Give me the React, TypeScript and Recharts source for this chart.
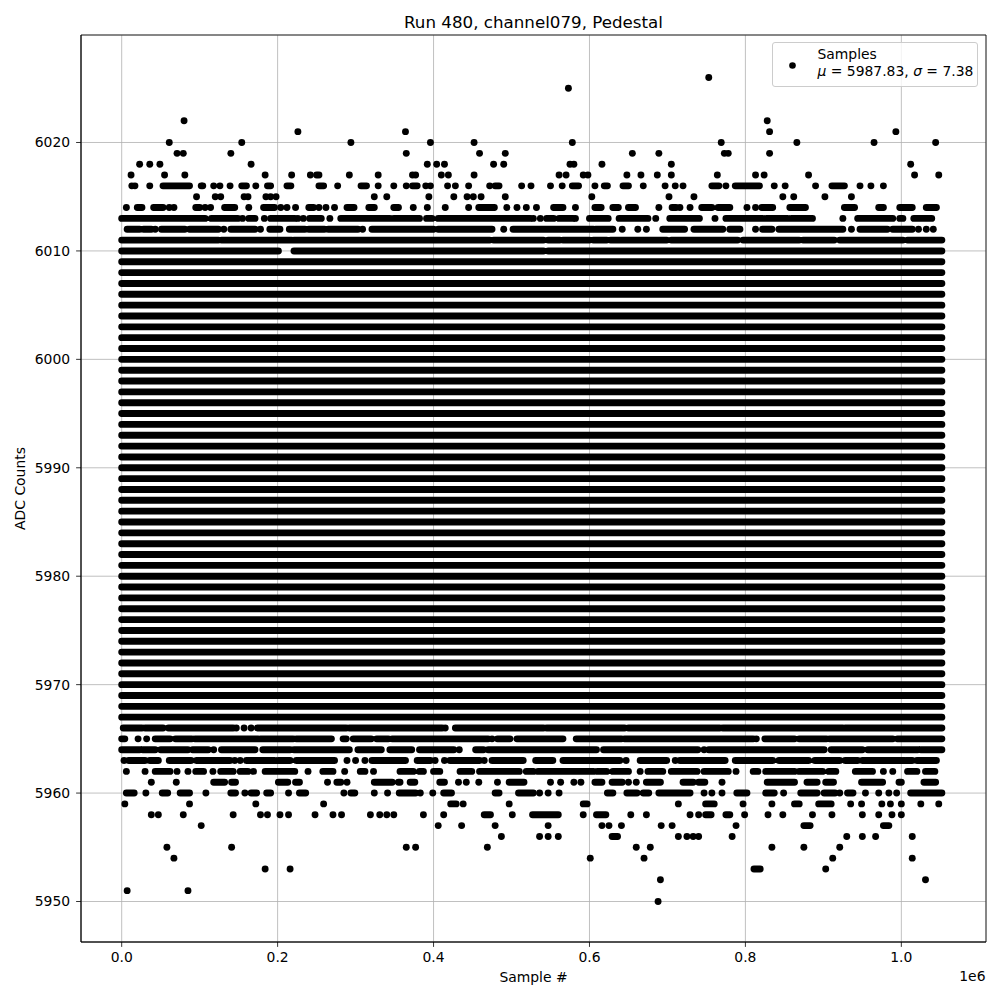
import React from 'react';
import {
  ComposedChart,
  Line,
  Scatter,
  XAxis,
  YAxis,
  CartesianGrid,
  ReferenceArea,
  Legend,
  Label,
} from 'recharts';

const FONT = '"DejaVu Sans", "Liberation Sans", sans-serif';
const TITLE = 'Run 480, channel079, Pedestal';
const X_LABEL = 'Sample #';
const Y_LABEL = 'ADC Counts';
const X_OFFSET_TEXT = '1e6';
const SERIES_NAME = 'Samples';
const MEAN = '5987.83';
const SIGMA = '7.38';

// x values are in thousands of samples (axis shows units of 1e6)
const xTicks = [0, 200, 400, 600, 800, 1000];
const yTicks = [5950, 5960, 5970, 5980, 5990, 6000, 6010, 6020];
const X_DOMAIN: [number, number] = [-52.2, 1108.6];
const Y_DOMAIN: [number, number] = [5946.265, 6029.914];

// ADC values whose rows are filled over the whole run
const denseRows = [
  5967, 5968, 5969, 5970, 5971, 5972, 5973, 5974, 5975, 5976, 5977, 5978, 5979,
  5980, 5981, 5982, 5983, 5984, 5985, 5986, 5987, 5988, 5989, 5990, 5991, 5992,
  5993, 5994, 5995, 5996, 5997, 5998, 5999, 6000, 6001, 6002, 6003, 6004, 6005,
  6006, 6007, 6008, 6009,
];
const denseExtent = [0, 1052];

// partially filled rows: ADC value -> runs of consecutive samples [start, end]
const segmentRows: [number, [number, number][]][] = [
  [6016, [[53, 87], [154, 160], [187, 191], [212, 217], [253, 259], [307, 314], [373, 379], [479, 484], [578, 586], [619, 623], [643, 650], [757, 766], [787, 818], [911, 927]]],
  [6014, [[20, 26], [41, 53], [95, 100], [132, 145], [182, 196], [240, 246], [289, 298], [317, 324], [349, 355], [458, 478], [554, 566], [607, 615], [630, 637], [650, 659], [706, 711], [744, 757], [765, 780], [821, 835], [857, 877], [927, 940], [971, 977], [998, 1014], [1032, 1045]]],
  [6013, [[0, 47], [51, 107], [115, 149], [163, 171], [191, 222], [241, 256], [281, 344], [349, 370], [374, 382], [391, 398], [406, 524], [545, 554], [561, 579], [600, 624], [638, 675], [703, 741], [775, 822], [827, 854], [859, 886], [944, 989], [998, 1002], [1016, 1039]]],
  [6012, [[7, 23], [28, 38], [51, 81], [87, 124], [140, 171], [190, 203], [215, 235], [240, 260], [265, 303], [321, 400], [406, 475], [502, 605], [608, 630], [694, 722], [734, 771], [780, 793], [822, 834], [843, 925], [947, 982], [989, 1014]]],
  [6011, [[0, 124], [128, 218], [221, 472], [477, 541], [547, 562], [566, 600], [605, 622], [627, 699], [705, 790], [797, 869], [874, 914], [921, 1002], [1008, 1052]]],
  [6010, [[0, 201], [221, 541], [547, 1052]]],
  [5966, [[2, 26], [30, 53], [60, 143], [174, 288], [292, 411], [428, 541], [545, 645], [650, 767], [771, 812], [814, 925], [928, 1052]]],
  [5965, [[0, 4], [43, 62], [69, 90], [94, 175], [178, 220], [224, 269], [284, 288], [297, 320], [327, 342], [347, 470], [482, 498], [507, 566], [583, 641], [645, 810], [825, 863], [869, 904], [908, 989], [995, 1052]]],
  [5964, [[0, 23], [27, 43], [50, 85], [91, 111], [128, 171], [181, 216], [221, 292], [303, 333], [344, 372], [382, 426], [454, 464], [470, 609], [618, 739], [753, 901], [910, 950], [957, 1021], [1025, 1052]]],
  [5963, [[9, 30], [36, 47], [61, 89], [96, 139], [160, 196], [201, 216], [224, 273], [321, 364], [379, 396], [421, 459], [475, 515], [531, 553], [566, 639], [665, 699], [716, 754], [758, 774], [787, 835], [843, 881], [889, 921], [928, 944], [950, 1002], [1006, 1014], [1020, 1045]]],
  [5962, [[43, 62], [95, 105], [127, 143], [152, 162], [184, 222], [258, 271], [306, 312], [357, 374], [382, 387], [400, 408], [434, 449], [459, 510], [519, 528], [534, 545], [549, 605], [610, 622], [630, 650], [675, 694], [705, 738], [747, 778], [810, 816], [826, 863], [869, 899], [907, 916], [941, 963], [1008, 1020], [1031, 1043]]],
  [5961, [[118, 132], [141, 146], [201, 213], [223, 228], [276, 281], [324, 347], [355, 357], [370, 376], [408, 414], [497, 516], [607, 616], [629, 642], [673, 691], [720, 733], [740, 748], [828, 863], [879, 892], [903, 913], [949, 976], [997, 1000], [1029, 1044]]],
  [5960, [[6, 16], [52, 59], [75, 87], [140, 146], [166, 173], [186, 191], [228, 236], [294, 299], [356, 377], [413, 423], [479, 484], [509, 528], [623, 630], [648, 661], [669, 676], [689, 729], [789, 802], [826, 837], [871, 892], [901, 915], [931, 938], [1012, 1052]]],
  [5959, [[422, 429], [592, 597], [749, 760], [863, 869], [894, 910]]],
  [5958, [[465, 473], [527, 560], [609, 621], [749, 756], [775, 780]]],
  [5957, [[875, 883], [977, 984]]],
  [5956, [[629, 636]]],
  [5953, [[811, 819]]],
];

// isolated samples: ADC value -> sample positions
const pointRows: [number, number[]][] = [
  [6026, [753]],
  [6025, [573]],
  [6022, [80, 828]],
  [6021, [226, 364, 831, 993]],
  [6020, [61, 154, 294, 396, 452, 578, 769, 866, 965, 1044]],
  [6019, [71, 79, 140, 365, 459, 492, 655, 689, 773, 778, 831]],
  [6018, [23, 36, 49, 166, 392, 404, 414, 477, 490, 575, 580, 616, 705, 1012]],
  [6017, [12, 55, 81, 184, 218, 242, 250, 253, 292, 329, 373, 377, 410, 419, 452, 561, 570, 592, 598, 648, 666, 687, 705, 764, 813, 824, 881, 1017, 1048]],
  [6016, [13, 17, 36, 102, 104, 118, 126, 139, 172, 277, 329, 349, 365, 390, 396, 418, 428, 445, 472, 513, 525, 550, 565, 607, 669, 697, 710, 720, 775, 837, 851, 890, 947, 961, 977]],
  [6015, [96, 120, 127, 157, 162, 185, 191, 198, 324, 340, 394, 426, 443, 451, 461, 492, 603, 702, 734, 848, 862, 902, 936]],
  [6014, [6, 61, 67, 107, 114, 163, 204, 212, 223, 253, 262, 273, 374, 392, 415, 445, 494, 507, 519, 532, 582, 689, 716, 729, 802, 813]],
  [6013, [155, 183, 226, 233, 267, 528, 537, 582, 685, 761, 925]],
  [6012, [43, 131, 178, 309, 490, 642, 662, 673, 813, 936, 1022, 1032, 1041]],
  [5966, [147, 157, 166, 415]],
  [5965, [21, 32, 475, 814]],
  [5964, [118, 433, 747]],
  [5963, [3, 145, 152, 289, 300, 312, 402, 414, 465, 647, 710]],
  [5962, [6, 30, 71, 85, 117, 169, 239, 286, 323, 665, 788, 977, 989]],
  [5961, [38, 70, 264, 289, 432, 442, 458, 482, 550, 563, 580, 589, 650, 660, 770]],
  [5960, [31, 108, 158, 214, 285, 324, 341, 383, 399, 536, 547, 561, 747, 757, 770, 849, 921, 954, 971, 984, 994]],
  [5959, [4, 87, 172, 259, 438, 497, 714, 797, 834, 935, 949, 975, 986, 1000, 1025, 1048]],
  [5958, [38, 47, 79, 143, 178, 187, 203, 214, 248, 271, 282, 319, 331, 340, 349, 387, 413, 501, 592, 653, 673, 729, 740, 799, 829, 848, 886, 911, 950, 971, 988, 1000]],
  [5957, [102, 406, 436, 479, 547, 616, 625, 641, 692, 706, 788]],
  [5956, [487, 536, 547, 560, 714, 725, 733, 740, 783, 930, 950, 967, 1014]],
  [5955, [58, 141, 365, 377, 469, 660, 678, 834, 875, 921]],
  [5954, [67, 601, 670, 912, 1014]],
  [5953, [184, 216, 903]],
  [5952, [691, 1031]],
  [5951, [7, 85]],
  [5950, [688]],
];

type Pt = { x: number; y: number | null };
const lineData: Pt[] = [];
const addRun = (v: number, a: number, b: number) => {
  lineData.push({ x: a, y: v }, { x: b, y: v }, { x: b, y: null });
};
denseRows.forEach((v) => addRun(v, denseExtent[0], denseExtent[1]));
segmentRows.forEach(([v, runs]) => runs.forEach(([a, b]) => addRun(v, a, b)));
const pointData: Pt[] = pointRows.flatMap(([v, xs]) => xs.map((x) => ({ x, y: v })));

const DOT_R = 3.45;
const dotShape = (p: any) => <circle cx={p.cx} cy={p.cy} r={DOT_R} fill="#000" />;

const tickStyle = { fill: '#000', fontSize: 13.9, fontFamily: FONT };

const renderLegend = () => (
  <div
    style={{
      boxSizing: 'border-box',
      width: 206,
      height: 45,
      border: '1px solid #cccccc',
      borderRadius: 3,
      background: 'rgba(255,255,255,0.8)',
      position: 'relative',
      fontFamily: FONT,
      fontSize: 13.9,
      lineHeight: '16.7px',
      color: '#000',
    }}
  >
    <svg style={{ position: 'absolute', left: 15.8, top: 18.5 }} width={7} height={7}>
      <circle cx={3.5} cy={3.5} r={3.3} fill="#000" />
    </svg>
    <div style={{ position: 'absolute', left: 44.5, top: 2.8, whiteSpace: 'nowrap' }}>
      <div>{SERIES_NAME}</div>
      <div>
        <i>μ</i> = {MEAN}, <i>σ</i> = {SIGMA}
      </div>
    </div>
  </div>
);

const YLabel = () => (
  <text
    x={25}
    y={488.5}
    transform="rotate(-90 25 488.5)"
    textAnchor="middle"
    fill="#000"
    fontSize={13.9}
    fontFamily={FONT}
  >
    {Y_LABEL}
  </text>
);

export default function App() {
  return (
    <div style={{ position: 'absolute', left: 0, top: 0, width: 1000, height: 1000, background: '#fff' }}>
      <ComposedChart width={1000} height={1000} margin={{ top: 35, right: 14, bottom: 28, left: 21 }}>
        <CartesianGrid stroke="#b0b0b0" strokeWidth={0.8} />
        <XAxis
          type="number"
          dataKey="x"
          domain={X_DOMAIN}
          allowDataOverflow
          ticks={xTicks}
          interval={0}
          height={30}
          tickSize={4.9}
          tickMargin={5}
          tick={tickStyle}
          tickLine={{ stroke: '#000', strokeWidth: 0.8 }}
          axisLine={{ stroke: '#000', strokeWidth: 0.8 }}
          tickFormatter={(v: number) => (v / 1000).toFixed(1)}
        >
          <Label value={X_LABEL} position="bottom" offset={0} style={{ fill: '#000', fontSize: 13.9, fontFamily: FONT }} />
        </XAxis>
        <YAxis
          type="number"
          dataKey="y"
          domain={Y_DOMAIN}
          allowDataOverflow
          ticks={yTicks}
          interval={0}
          width={60}
          tickSize={4.9}
          tickMargin={6}
          tick={tickStyle}
          tickLine={{ stroke: '#000', strokeWidth: 0.8 }}
          axisLine={{ stroke: '#000', strokeWidth: 0.8 }}
        >
          <Label content={<YLabel />} />
        </YAxis>
        <Line
          data={lineData}
          dataKey="y"
          name={SERIES_NAME}
          stroke="#000"
          strokeWidth={2 * DOT_R}
          strokeLinecap="round"
          dot={false}
          activeDot={false}
          connectNulls={false}
          legendType="none"
          isAnimationActive={false}
        />
        <Scatter data={pointData} name={SERIES_NAME} fill="#000" shape={dotShape} legendType="none" isAnimationActive={false} />
        <ReferenceArea
          x1={X_DOMAIN[0]}
          x2={X_DOMAIN[1]}
          y1={Y_DOMAIN[0]}
          y2={Y_DOMAIN[1]}
          fill="none"
          stroke="#000"
          strokeWidth={0.8}
          ifOverflow="visible"
        />
        <Legend
          layout="vertical"
          align="center"
          verticalAlign="middle"
          wrapperStyle={{ left: 772, top: 42, width: 206, height: 45 }}
          content={renderLegend}
        />
      </ComposedChart>
      <div
        style={{
          position: 'absolute',
          left: 81,
          width: 905,
          top: 14,
          textAlign: 'center',
          fontFamily: FONT,
          fontSize: 16.7,
          lineHeight: '16.7px',
          color: '#000',
          whiteSpace: 'nowrap',
        }}
      >
        {TITLE}
      </div>
      <div
        style={{
          position: 'absolute',
          right: 14.5,
          top: 970.2,
          fontFamily: FONT,
          fontSize: 13.9,
          lineHeight: '13.9px',
          color: '#000',
        }}
      >
        {X_OFFSET_TEXT}
      </div>
    </div>
  );
}
